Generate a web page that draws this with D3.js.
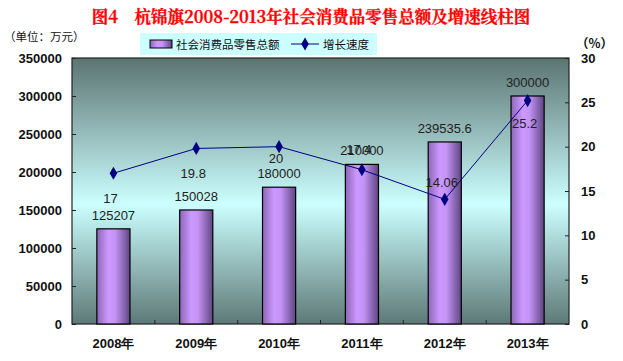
<!DOCTYPE html>
<html>
<head>
<meta charset="utf-8">
<script src="https://cdn.jsdelivr.net/npm/d3@7"></script>
<style>
  body { margin: 0; background: #fff; }
  svg { display: block; font-family: "Liberation Sans", Arial, sans-serif; }
  .title { font-family: "Noto Serif CJK SC", "Noto Sans CJK SC", serif; font-weight: bold; fill: #ff0000; }
  .axis-num { font-weight: bold; font-size: 13px; fill: #111; }
  .val { font-size: 13px; fill: #222; }
</style>
</head>
<body>
<svg id="chart" width="623" height="361"></svg>
<script>
const years = ["2008年", "2009年", "2010年", "2011年", "2012年", "2013年"];
const sales = [125207, 150028, 180000, 210000, 239535.6, 300000];
const salesLabels = ["125207", "150028", "180000", "210000", "239535.6", "300000"];
const growth = [17, 19.8, 20, 17.4, 14.06, 25.2];
const growthLabels = ["17", "19.8", "20", "17.4", "14.06", "25.2"];
// where each growth label sits relative to its point (px, + = below)
const growthLabelDy = [25, 25, 11, -21, -17, 22];
const leftTicks = [0, 50000, 100000, 150000, 200000, 250000, 300000, 350000];
const rightTicks = [0, 5, 10, 15, 20, 25, 30];

const svg = d3.select("#chart");
const margin = { left: 72, right: 54, top: 58, bottom: 37 };
const W = 623, H = 361;
const x0 = margin.left, x1 = W - margin.right;
const y0 = H - margin.bottom, y1 = margin.top;

const x = d3.scaleBand().domain(years).range([x0, x1]).paddingInner(0.6).paddingOuter(0.3);
const xCat = d3.scaleBand().domain(years).range([x0, x1]);
const yL = d3.scaleLinear().domain([0, 350000]).range([y0, y1]);
const yR = d3.scaleLinear().domain([0, 30]).range([y0, y1]);

const defs = svg.append("defs");
const bg = defs.append("linearGradient").attr("id", "bg").attr("x1", 0).attr("y1", 0).attr("x2", 0).attr("y2", 1);
bg.append("stop").attr("offset", "0%").attr("stop-color", "#5b7472");
bg.append("stop").attr("offset", "55%").attr("stop-color", "#ccffff");
bg.append("stop").attr("offset", "100%").attr("stop-color", "#5d7977");

const barG = defs.append("linearGradient").attr("id", "bar").attr("x1", 0).attr("y1", 0).attr("x2", 1).attr("y2", 0);
barG.append("stop").attr("offset", "0%").attr("stop-color", "#8e66b8");
barG.append("stop").attr("offset", "35%").attr("stop-color", "#cc99ff");
barG.append("stop").attr("offset", "55%").attr("stop-color", "#c593f6");
barG.append("stop").attr("offset", "100%").attr("stop-color", "#5e4680");

// title
svg.append("text").attr("class", "title").attr("x", 311).attr("y", 23)
    .attr("text-anchor", "middle").attr("font-size", 16.5)
    .attr("stroke", "#ff0000").attr("stroke-width", 0.3)
    .text("图4　杭锦旗2008-2013年社会消费品零售总额及增速线柱图");

svg.append("text").attr("x", 4).attr("y", 41).attr("font-size", 11.5)
    .attr("font-family", "Noto Sans CJK SC").attr("fill", "#111").text("（单位：万元）");
svg.append("text").attr("x", 576).attr("y", 48).attr("font-size", 12.5).attr("font-weight", "bold")
    .attr("font-family", "Noto Sans CJK SC").attr("fill", "#111").text("（%）");

// plot area
svg.append("rect").attr("x", x0).attr("y", y1).attr("width", x1 - x0).attr("height", y0 - y1)
    .attr("fill", "url(#bg)").attr("stroke", "#222").attr("stroke-width", 1.2);

// bars
svg.selectAll(".bar").data(sales).enter().append("rect")
    .attr("class", "bar")
    .attr("x", (d, i) => x(years[i]))
    .attr("y", (d) => yL(d))
    .attr("width", x.bandwidth())
    .attr("height", (d) => y0 - yL(d))
    .attr("fill", "url(#bar)")
    .attr("stroke", "#000").attr("stroke-width", 1.2);

// axes
const leftAxis = svg.append("g").attr("transform", `translate(${x0},0)`)
    .call(d3.axisLeft(yL).tickValues(leftTicks).tickSize(-4).tickPadding(10).tickFormat(d3.format("d")));
leftAxis.select(".domain").remove();
leftAxis.selectAll("text").attr("class", "axis-num");
leftAxis.selectAll("line").attr("stroke", "#222");

const rightAxis = svg.append("g").attr("transform", `translate(${x1},0)`)
    .call(d3.axisRight(yR).tickValues(rightTicks).tickSize(-4).tickPadding(12));
rightAxis.select(".domain").remove();
rightAxis.selectAll("text").attr("class", "axis-num");
rightAxis.selectAll("line").attr("stroke", "#222");

const xAxis = svg.append("g").attr("transform", `translate(0,${y0})`)
    .call(d3.axisBottom(xCat).tickSize(0).tickPadding(15));
xAxis.select(".domain").remove();
xAxis.selectAll("text").attr("font-size", 13).attr("font-weight", "bold").attr("fill", "#111");

// category boundary ticks
svg.selectAll(".ctick").data(years.slice(1)).enter().append("line")
    .attr("x1", (d) => xCat(d)).attr("x2", (d) => xCat(d))
    .attr("y1", y0).attr("y2", y0 - 4).attr("stroke", "#222");

// bar value labels
svg.selectAll(".sval").data(sales).enter().append("text")
    .attr("class", "val")
    .attr("x", (d, i) => xCat(years[i]) + xCat.bandwidth() / 2)
    .attr("y", (d) => yL(d) - 9)
    .attr("text-anchor", "middle")
    .text((d, i) => salesLabels[i]);

// growth line
const cx = (i) => xCat(years[i]) + xCat.bandwidth() / 2;
const line = d3.line().x((d, i) => cx(i)).y((d) => yR(d));
svg.append("path").datum(growth).attr("d", line)
    .attr("fill", "none").attr("stroke", "#000080").attr("stroke-width", 1);

svg.selectAll(".pt").data(growth).enter().append("path")
    .attr("d", d3.symbol().type(d3.symbolDiamond).size(50))
    .attr("transform", (d, i) => `translate(${cx(i)},${yR(d)})`)
    .attr("fill", "#000080");

svg.selectAll(".gval").data(growth).enter().append("text")
    .attr("class", "val")
    .attr("x", (d, i) => cx(i) - 3)
    .attr("y", (d, i) => yR(d) + growthLabelDy[i] + 5)
    .attr("text-anchor", "middle")
    .text((d, i) => growthLabels[i]);

// legend
const lg = svg.append("g");
lg.append("rect").attr("x", 140).attr("y", 33).attr("width", 237).attr("height", 22).attr("fill", "#ccffff");
lg.append("rect").attr("x", 150).attr("y", 40).attr("width", 22).attr("height", 8)
    .attr("fill", "url(#bar)").attr("stroke", "#000");
lg.append("text").attr("x", 176).attr("y", 49).attr("font-size", 11.5)
    .attr("font-family", "Noto Sans CJK SC").attr("fill", "#111").text("社会消费品零售总额");
lg.append("line").attr("x1", 291).attr("x2", 319).attr("y1", 44).attr("y2", 44).attr("stroke", "#000080");
lg.append("path").attr("d", d3.symbol().type(d3.symbolDiamond).size(50))
    .attr("transform", "translate(305,44)").attr("fill", "#000080");
lg.append("text").attr("x", 323).attr("y", 49).attr("font-size", 11.5)
    .attr("font-family", "Noto Sans CJK SC").attr("fill", "#111").text("增长速度");
</script>
</body>
</html>
